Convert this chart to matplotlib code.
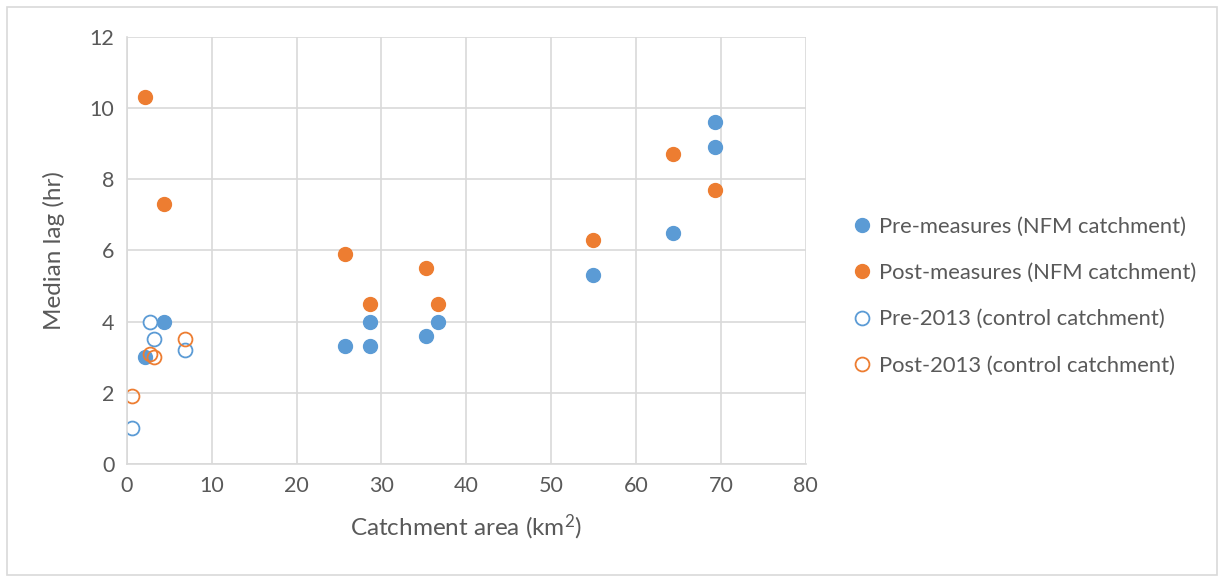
import matplotlib.pyplot as plt
from matplotlib.patches import Rectangle

plt.rcParams['font.family'] = ['Lato', 'DejaVu Sans']
plt.rcParams['mathtext.fontset'] = 'custom'
plt.rcParams['mathtext.rm'] = 'Lato'
plt.rcParams['mathtext.default'] = 'regular'

# NFM catchments
pre_nfm_x = [2.2, 4.4, 25.7, 28.6, 28.6, 35.2, 36.7, 54.9, 64.4, 69.3, 69.3]
pre_nfm_y = [3.0, 4.0, 3.3, 4.0, 3.3, 3.6, 4.0, 5.3, 6.5, 9.6, 8.9]
post_nfm_x = [2.2, 4.4, 25.7, 28.6, 35.2, 36.7, 54.9, 64.4, 69.3]
post_nfm_y = [10.3, 7.3, 5.9, 4.5, 5.5, 4.5, 6.3, 8.7, 7.7]

# control catchments
pre_ctrl_x = [0.6, 2.7, 3.2, 6.9]
pre_ctrl_y = [1.0, 4.0, 3.5, 3.2]
post_ctrl_x = [0.6, 2.7, 3.2, 6.9]
post_ctrl_y = [1.9, 3.1, 3.0, 3.5]

blue = '#5b9bd5'
orange = '#ed7d31'
grey_txt = '#595959'
grid_col = '#d9d9d9'

fig = plt.figure(figsize=(12.19, 5.77), dpi=100)
ax = fig.add_axes([0.104, 0.196, 0.557, 0.740])

ax.plot(pre_nfm_x, pre_nfm_y, 'o', ms=10, color=blue, label='Pre-measures (NFM catchment)')
ax.plot(post_nfm_x, post_nfm_y, 'o', ms=10, color=orange, label='Post-measures (NFM catchment)')
ax.plot(pre_ctrl_x, pre_ctrl_y, 'o', ms=10, mfc='white', mec=blue, mew=1.3,
        label='Pre-2013 (control catchment)')
ax.plot(post_ctrl_x, post_ctrl_y, 'o', ms=10, mfc='none', mec=orange, mew=1.3,
        label='Post-2013 (control catchment)')

ax.set_xlim(0, 80)
ax.set_ylim(0, 12)
ax.set_xticks(range(0, 81, 10))
ax.set_yticks(range(0, 13, 2))
ax.grid(True, color=grid_col, lw=1.2)
ax.set_axisbelow(True)
for s in ['top', 'right']:
    ax.spines[s].set_visible(False)
for s in ['left', 'bottom']:
    ax.spines[s].set_color(grid_col)
    ax.spines[s].set_linewidth(1.2)
ax.tick_params(length=0, labelsize=15.5, colors=grey_txt, pad=9)

ax.set_xlabel('Catchment area (km$^2$)', fontsize=17.5, color=grey_txt, labelpad=12)
ax.set_ylabel('Median lag (hr)', fontsize=17.5, color=grey_txt, labelpad=18)

leg = ax.legend(loc='center left', bbox_to_anchor=(1.035, 0.393), frameon=False,
                fontsize=15.8, handletextpad=0.15, labelspacing=1.2, markerscale=1.0,
                handlelength=1.2)
for t in leg.get_texts():
    t.set_color(grey_txt)

fig.patches.append(Rectangle((0.006, 0.004), 0.992, 0.984, transform=fig.transFigure,
                             fill=False, edgecolor=grid_col, lw=1.2))

fig.savefig('out.png', dpi=100)
